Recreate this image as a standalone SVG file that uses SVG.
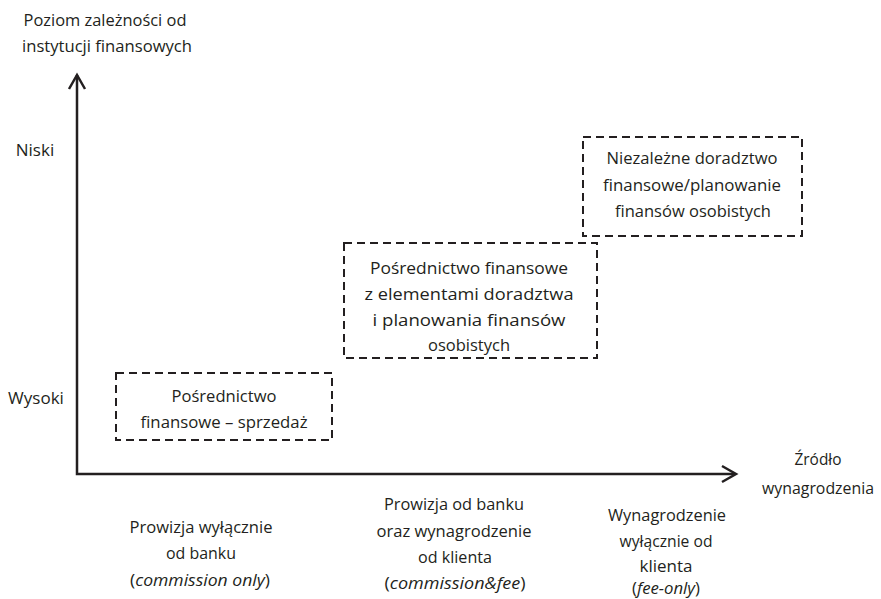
<svg xmlns="http://www.w3.org/2000/svg" width="881" height="599" viewBox="0 0 881 599">
<style>
text{font-family:"Open Sans","Liberation Sans",sans-serif;font-size:17px;fill:#231f20;text-anchor:middle}
.box{fill:none;stroke:#231f20;stroke-width:2;stroke-dasharray:8 5}
.axis{fill:none;stroke:#231f20;stroke-width:2.5}
.head{fill:none;stroke:#231f20;stroke-width:2.5;stroke-linejoin:miter}
.it{font-style:italic}
</style>
<rect width="881" height="599" fill="#fff"/>
<g id="connectors">
<path class="axis" d="M77 75 V474 H735"/>
<path class="head" d="M69 89 L77 75 L85 89"/>
<path class="head" d="M722 466 L736 474 L722 482"/>
</g>
<g id="y-label">
<text x="105" y="26" textLength="163" lengthAdjust="spacingAndGlyphs">Poziom zależności od</text>
<text x="107" y="52" textLength="170" lengthAdjust="spacingAndGlyphs">instytucji finansowych</text>
</g>
<g id="niski"><text x="35" y="156">Niski</text></g>
<g id="wysoki"><text x="36" y="404">Wysoki</text></g>
<g id="box-low">
<rect class="box" x="116" y="373" width="216" height="67"/>
<text x="224" y="402" textLength="105" lengthAdjust="spacingAndGlyphs">Pośrednictwo</text>
<text x="224" y="428" textLength="167" lengthAdjust="spacingAndGlyphs">finansowe – sprzedaż</text>
</g>
<g id="box-mid">
<rect class="box" x="344" y="243" width="253" height="115"/>
<text x="469" y="274" textLength="198" lengthAdjust="spacingAndGlyphs">Pośrednictwo finansowe</text>
<text x="469" y="300" textLength="209" lengthAdjust="spacingAndGlyphs">z elementami doradztwa</text>
<text x="469" y="326" textLength="193" lengthAdjust="spacingAndGlyphs">i planowania finansów</text>
<text x="469" y="351" textLength="82" lengthAdjust="spacingAndGlyphs">osobistych</text>
</g>
<g id="box-high">
<rect class="box" x="583" y="137" width="219" height="99"/>
<text x="692" y="164" textLength="171" lengthAdjust="spacingAndGlyphs">Niezależne doradztwo</text>
<text x="692" y="191" textLength="178" lengthAdjust="spacingAndGlyphs">finansowe/planowanie</text>
<text x="693" y="217" textLength="156" lengthAdjust="spacingAndGlyphs">finansów osobistych</text>
</g>
<g id="x-label">
<text x="818" y="465" textLength="47" lengthAdjust="spacingAndGlyphs">Źródło</text>
<text x="818" y="494" textLength="112" lengthAdjust="spacingAndGlyphs">wynagrodzenia</text>
</g>
<g id="col1">
<text x="201" y="533" textLength="143" lengthAdjust="spacingAndGlyphs">Prowizja wyłącznie</text>
<text x="201" y="559" textLength="70" lengthAdjust="spacingAndGlyphs">od banku</text>
<text x="200" y="586" textLength="140" lengthAdjust="spacingAndGlyphs">(<tspan class="it">commission only</tspan>)</text>
</g>
<g id="col2">
<text x="454" y="510" textLength="140" lengthAdjust="spacingAndGlyphs">Prowizja od banku</text>
<text x="454" y="537" textLength="155" lengthAdjust="spacingAndGlyphs">oraz wynagrodzenie</text>
<text x="455" y="563" textLength="74" lengthAdjust="spacingAndGlyphs">od klienta</text>
<text x="455" y="589" textLength="141" lengthAdjust="spacingAndGlyphs">(<tspan class="it">commission&amp;fee</tspan>)</text>
</g>
<g id="col3">
<text x="667" y="521" textLength="118" lengthAdjust="spacingAndGlyphs">Wynagrodzenie</text>
<text x="666" y="547" textLength="93" lengthAdjust="spacingAndGlyphs">wyłącznie od</text>
<text x="666" y="572" textLength="53" lengthAdjust="spacingAndGlyphs">klienta</text>
<text x="666" y="594" textLength="68" lengthAdjust="spacingAndGlyphs">(<tspan class="it">fee-only</tspan>)</text>
</g>
</svg>
